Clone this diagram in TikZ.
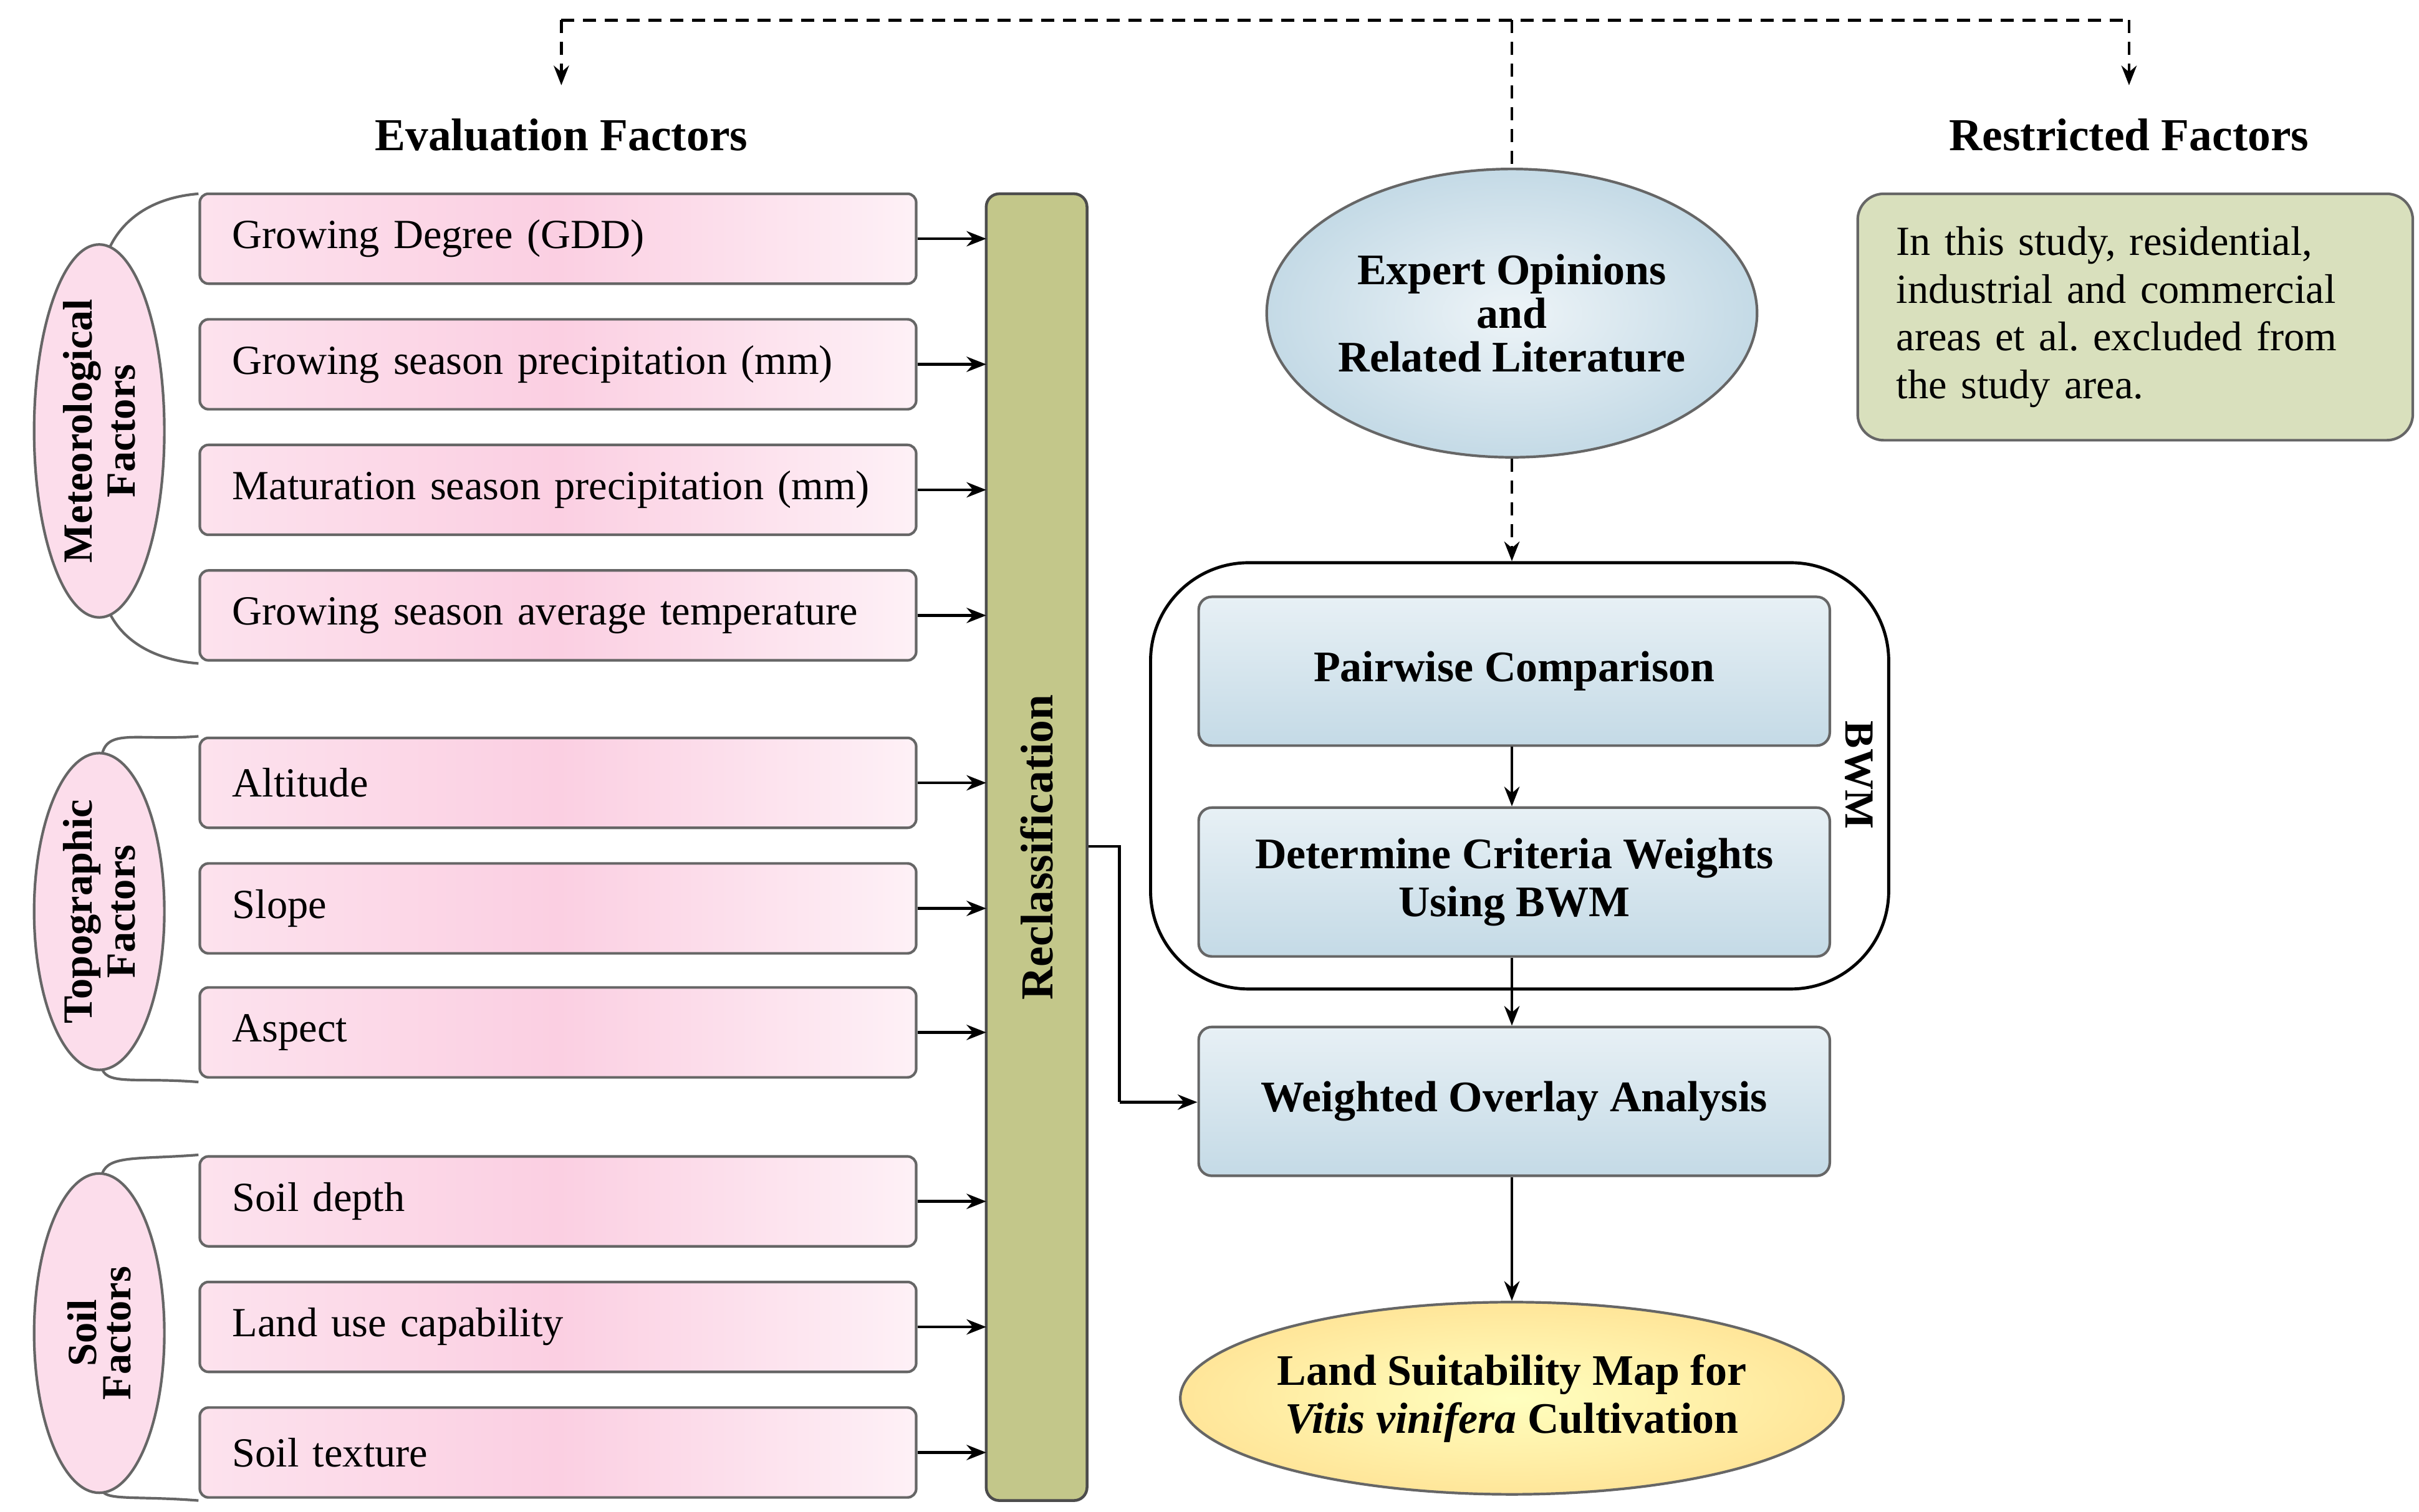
\documentclass[tikz,border=0pt]{standalone}
\usepackage{fontspec}
\setmainfont{Liberation Serif}
\usetikzlibrary{arrows.meta,shapes.geometric}
\definecolor{bl}{HTML}{C4DAE6}
\definecolor{pk}{HTML}{FBCFE2}
\definecolor{ol}{HTML}{C3C78A}
\definecolor{rg}{HTML}{D9E0BD}
\newcommand{\jline}[1]{\makebox[\linewidth][s]{#1}}
\begin{document}
\begin{tikzpicture}[x=0.025cm,y=-0.025cm,
  fac/.style={draw=gray!80!black,line width=1.2pt,rounded corners=4pt,left color=pk!60,right color=pk!30,middle color=pk,minimum width=462*0.025cm,minimum height=58*0.025cm,anchor=west,align=left,font=\fontsize{19}{21}\selectfont,inner xsep=12pt,text width=420*0.025cm},
  grp/.style={draw=gray!80!black,line width=1.2pt,ellipse,fill=pk!70,minimum width=84*0.025cm,minimum height=208*0.025cm,font=\bfseries\fontsize{19}{19}\selectfont,align=center,inner sep=0pt},
  blu/.style={draw=gray!80!black,line width=1.2pt,rounded corners=6pt,top color=bl!40,bottom color=bl,minimum width=407*0.025cm,minimum height=96*0.025cm,align=center,font=\bfseries\fontsize{20}{22}\selectfont},
  arr/.style={-{Stealth[length=9pt,width=7pt]},line width=1.3pt},
  dsh/.style={dash pattern=on 6pt off 4pt},
  ttl/.style={font=\bfseries\fontsize{21}{23}\selectfont}]
\useasboundingbox (0,0) rectangle (1560,975);
\coordinate (tl) at (362,13); \coordinate (tr) at (1373,13); \coordinate (tm) at (975,13);
\node[ttl] (ef) at (362,87) {Evaluation Factors};
\node[ttl] (rf) at (1373,87) {Restricted Factors};
\draw[dsh,line width=1.3pt] (tl) -- (tr);
\draw[dsh,arr] (tl) -- (362,55);
\draw[dsh,arr] (tr) -- (1373,55);
\node[draw=black!70,line width=1.3pt,rounded corners=6pt,fill=ol,minimum width=65*0.025cm,minimum height=843*0.025cm] (rc) at (668.5,546.5) {};
\node[rotate=90,font=\bfseries\fontsize{21}{23}\selectfont] at (rc) {Reclassification};
\foreach \n/\y/\t in {f1/154/Growing Degree (GDD),f2/235/Growing season precipitation (mm),f3/316/Maturation season precipitation (mm),f4/397/Growing season average temperature,f5/505/Altitude,f6/586/Slope,f7/666/Aspect,f8/775/Soil depth,f9/856/Land use capability,f10/937/Soil texture}{
  \node[fac] (\n) at (128,\y) {\t};
  \coordinate (\n r) at (636,\y);
  \draw[arr] (\n.east) -- (\n r);
}
\draw[gray!80!black,line width=1.2pt] (128,125) .. controls (90,128) and (70,150) .. (66,175);
\draw[gray!80!black,line width=1.2pt] (128,428) .. controls (90,425) and (70,405) .. (66,381);
\node[grp] (g1) at (64,278) {\rotatebox{90}{\shortstack{Meteorological\\Factors}}};
\draw[gray!80!black,line width=1.2pt] (128,475) .. controls (90,478) and (70,470) .. (66,486);
\draw[gray!80!black,line width=1.2pt] (128,698) .. controls (90,695) and (70,700) .. (66,690);
\node[grp,minimum height=204*0.025cm] (g2) at (64,588) {\rotatebox{90}{\shortstack{Topographic\\Factors}}};
\draw[gray!80!black,line width=1.2pt] (128,745) .. controls (90,748) and (70,745) .. (66,757);
\draw[gray!80!black,line width=1.2pt] (128,968) .. controls (90,965) and (70,968) .. (66,962);
\node[grp,minimum height=206*0.025cm] (g3) at (64,860) {\rotatebox{90}{\shortstack{Soil\\Factors}}};
\node[ellipse,draw=gray!80!black,line width=1.2pt,inner color=bl!30,outer color=bl,minimum width=310*0.025cm,minimum height=186*0.025cm,inner sep=0pt,align=center,font=\bfseries\fontsize{20}{22}\selectfont] (ex) at (975,202) {Expert Opinions\\[-2pt]and\\[-2pt]Related Literature};
\draw[dsh,line width=1.3pt] (tm) -- (ex.north);
\node[draw,line width=1.4pt,rounded corners=45pt,minimum width=476*0.025cm,minimum height=275*0.025cm] (bwm) at (980,500.5) {};
\node[rotate=-90,font=\bfseries\fontsize{19}{21}\selectfont] at (1199,500) {BWM};
\draw[dsh,arr] (ex.south) -- (bwm.north -| ex.south);
\node[blu] (pc) at (976.5,433) {Pairwise Comparison};
\node[blu] (dc) at (976.5,569) {Determine Criteria Weights\\Using BWM};
\node[blu] (wo) at (976.5,710.5) {Weighted Overlay Analysis};
\draw[arr] (pc.south -| 975,0) -- (dc.north -| 975,0);
\draw[arr] (dc.south -| 975,0) -- (wo.north -| 975,0);
\coordinate (e1) at (722,546); \coordinate (e2) at (722,711);
\draw[line width=1.3pt] (rc.east |- e1) -- (e1) -- (e2);
\draw[arr] (e2) -- (wo.west |- e2);
\node[ellipse,draw=gray!80!black,line width=1.2pt,inner color=yellow!25,outer color=yellow!50!orange!40,minimum width=396*0.025cm,minimum height=124*0.025cm,inner sep=0pt,align=center,font=\bfseries\fontsize{20}{22}\selectfont] (ls) at (975,902) {Land Suitability Map for\\\textit{Vitis vinifera} Cultivation};
\draw[arr] (wo.south -| 975,0) -- (ls.north);
\node[draw=gray!80!black,line width=1.2pt,rounded corners=12pt,fill=rg,minimum width=358*0.025cm,minimum height=159*0.025cm,text width=308*0.025cm,align=left,font=\fontsize{19}{22}\selectfont] (rb) at (1377,204.5) {\jline{In this study, residential,}\\\jline{industrial and commercial}\\\jline{areas et al.\ excluded from}\\the study area.};
\end{tikzpicture}
\end{document}
